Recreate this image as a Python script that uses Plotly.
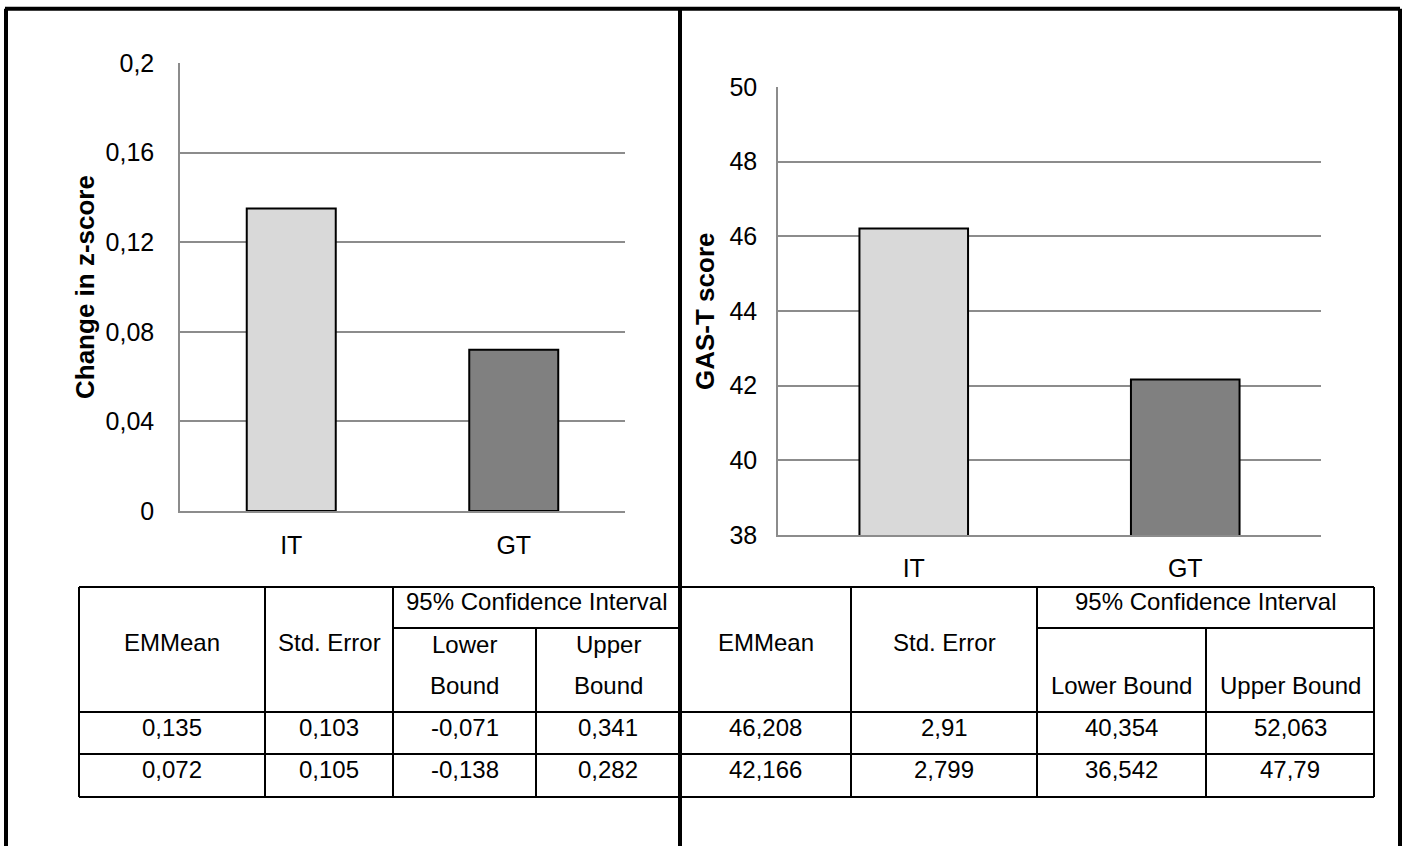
import plotly.graph_objects as go

# ---------------- data ----------------
categories = ["IT", "GT"]
z_change = [0.135, 0.072]
gas_t = [46.208, 42.166]

z_tickvals = [0, 0.04, 0.08, 0.12, 0.16, 0.2]
z_ticktext = ["0", "0,04", "0,08", "0,12", "0,16", "0,2"]
g_tickvals = [38, 40, 42, 44, 46, 48, 50]
g_ticktext = ["38", "40", "42", "44", "46", "48", "50"]

left_title = "Change in z-score"
right_title = "GAS-T score"

table_header_top = "95% Confidence Interval"
left_headers = ["EMMean", "Std. Error", "Lower<br>Bound", "Upper<br>Bound"]
right_headers = ["EMMean", "Std. Error", "Lower Bound", "Upper Bound"]

left_rows = [
    [0.135, 0.103, -0.071, 0.341],
    [0.072, 0.105, -0.138, 0.282],
]
right_rows = [
    [46.208, 2.91, 40.354, 52.063],
    [42.166, 2.799, 36.542, 47.79],
]

# ---------------- layout helpers ----------------
W, H = 1404, 846
FONT = "Liberation Sans, Arial, sans-serif"
bar_colors = ["#d9d9d9", "#808080"]
grid_col = "#8c8c8c"


def px(x):
    return x / W


def py(y):
    return 1 - y / H


def fmt(v):
    return str(v).replace(".", ",")


fig = go.Figure()

fig.add_trace(go.Bar(
    x=categories, y=z_change, width=0.4,
    marker=dict(color=bar_colors, line=dict(color="black", width=2)),
    xaxis="x", yaxis="y", showlegend=False,
))
fig.add_trace(go.Bar(
    x=categories, y=gas_t, width=0.4,
    marker=dict(color=bar_colors, line=dict(color="black", width=2)),
    xaxis="x2", yaxis="y2", showlegend=False,
))

axis_font = dict(family=FONT, size=25, color="black")

fig.update_layout(
    width=W, height=H,
    autosize=False,
    showlegend=False,
    margin=dict(l=0, r=0, t=0, b=0, pad=0, autoexpand=False),
    paper_bgcolor="white", plot_bgcolor="white",
    separators=",.",
    font=dict(family=FONT, color="black"),
    xaxis=dict(domain=[px(180), px(625)], anchor="y", showgrid=False,
               showline=True, linecolor=grid_col, linewidth=2,
               tickfont=axis_font, ticks="", ticklabelstandoff=11,
               automargin=False, fixedrange=True),
    yaxis=dict(domain=[py(511), py(63)], anchor="x", range=[0, 0.2],
               tickvals=z_tickvals, ticktext=z_ticktext,
               showgrid=True, gridcolor=grid_col, gridwidth=1.5,
               showline=True, linecolor=grid_col, linewidth=1.5,
               zeroline=False, tickfont=axis_font, ticks="",
               ticklabelstandoff=19, automargin=False, fixedrange=True),
    xaxis2=dict(domain=[px(778), px(1321)], anchor="y2", showgrid=False,
                showline=True, linecolor=grid_col, linewidth=2,
                tickfont=axis_font, ticks="", ticklabelstandoff=10,
                automargin=False, fixedrange=True),
    yaxis2=dict(domain=[py(535), py(87)], anchor="x2", range=[38, 50],
                tickvals=g_tickvals, ticktext=g_ticktext,
                showgrid=True, gridcolor=grid_col, gridwidth=1.5,
                showline=True, linecolor=grid_col, linewidth=1.5,
                zeroline=False, tickfont=axis_font, ticks="",
                ticklabelstandoff=14, automargin=False, fixedrange=True),
)

annotations = []
shapes = []

# axis titles
annotations.append(dict(x=px(85), y=py(287), xref="paper", yref="paper",
                        text="<b>%s</b>" % left_title, textangle=-90,
                        showarrow=False, xanchor="center", yanchor="middle",
                        font=dict(family=FONT, size=26, color="black")))
annotations.append(dict(x=px(705), y=py(311), xref="paper", yref="paper",
                        text="<b>%s</b>" % right_title, textangle=-90,
                        showarrow=False, xanchor="center", yanchor="middle",
                        font=dict(family=FONT, size=26, color="black")))


def line(x0, y0, x1, y1, w=2):
    shapes.append(dict(type="line", xref="paper", yref="paper",
                       x0=px(x0), y0=py(y0), x1=px(x1), y1=py(y1),
                       line=dict(color="black", width=w)))


def text(x, y, s, size=24):
    annotations.append(dict(x=px(x), y=py(y), xref="paper", yref="paper",
                            text=s, showarrow=False, xanchor="center",
                            yanchor="middle",
                            font=dict(family=FONT, size=size, color="black")))


# tables
rows_y = [587, 628, 712, 754, 797]


def draw_table(cols, headers, rows, split_header):
    x0, x1 = cols[0], cols[-1]
    line(x0, rows_y[0], x1, rows_y[0])
    line(cols[2], rows_y[1], x1, rows_y[1])
    line(x0, rows_y[2], x1, rows_y[2])
    line(x0, rows_y[3], x1, rows_y[3])
    line(x0, rows_y[4], x1, rows_y[4])
    for i, c in enumerate(cols):
        top = rows_y[1] if i == 3 else rows_y[0]
        line(c, top, c, rows_y[4])
    text((cols[0] + cols[1]) / 2, 642, headers[0])
    text((cols[1] + cols[2]) / 2, 642, headers[1])
    text((cols[2] + cols[4]) / 2, 601, table_header_top)
    if split_header:
        for k in (2, 3):
            top, bot = headers[k].split("<br>")
            text((cols[k] + cols[k + 1]) / 2, 644, top)
            text((cols[k] + cols[k + 1]) / 2, 685, bot)
    else:
        for k in (2, 3):
            text((cols[k] + cols[k + 1]) / 2, 685, headers[k])
    for r, vals in enumerate(rows):
        yc = (rows_y[2 + r] + rows_y[3 + r]) / 2 - 6
        for k, v in enumerate(vals):
            text((cols[k] + cols[k + 1]) / 2, yc, fmt(v))


draw_table([79, 265, 393, 536, 680], left_headers, left_rows, True)
draw_table([680, 851, 1037, 1206, 1374], right_headers, right_rows, False)

# outer frame and divider
line(5, 8.7, 1400, 8.7, 4)
line(6, 8.7, 6, 846, 4)
line(1400, 8.7, 1400, 846, 4)
line(680, 8.7, 680, 846, 4)

fig.update_layout(annotations=annotations, shapes=shapes)

fig.write_html("out.html", config={"displayModeBar": False})
